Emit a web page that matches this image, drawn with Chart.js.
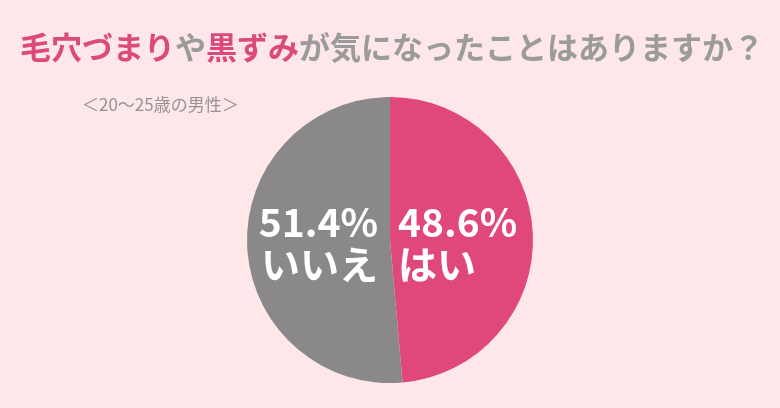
<!DOCTYPE html>
<html>
<head>
<meta charset="utf-8">
<script src="https://cdn.jsdelivr.net/npm/chart.js@4/dist/chart.umd.min.js"></script>
<style>
  html, body { margin: 0; padding: 0; background: #fde7e8; }
  #wrap { width: 780px; height: 408px; position: relative; }
</style>
</head>
<body>
<div id="wrap"><canvas id="pie-chart"></canvas></div>
<script>
// data
const categories = ['はい', 'いいえ'];
const shares = [48.6, 51.4];
const sliceColors = ['#e0487c', '#8b8889'];

// title pieces (text, colour)
const titleParts = [
    ['毛穴づまり', '#dc4a7c'],
    ['や', '#9b9b9b'],
    ['黒ずみ', '#dc4a7c'],
    ['が気になったことはありますか？', '#9b9b9b']
];
const subTitle = '＜20〜25歳の男性＞';

const font = '"Noto Sans CJK JP", "Noto Sans", sans-serif';

// draws title, subtitle and the labels inside the slices
const textPlugin = {
    id: 'texts',
    afterDraw(chart) {
        const c = chart.ctx;
        c.save();
        // title
        c.font = 'bold 31px ' + font;
        c.textBaseline = 'middle';
        c.textAlign = 'left';
        let x = 20;
        titleParts.forEach(p => {
            c.fillStyle = p[1];
            c.fillText(p[0], x, 47);
            x += c.measureText(p[0]).width;
        });
        // subtitle
        c.font = '17px ' + font;
        c.fillStyle = '#9a9292';
        c.fillText(subTitle, 82, 105);

        // slice labels
        const arcs = chart.getDatasetMeta(0).data;
        c.fillStyle = '#ffffff';
        c.font = 'bold 39px ' + font;
        arcs.forEach((arc, i) => {
            const cx = arc.x, cy = arc.y;
            const pct = shares[i].toFixed(1) + '%';
            if (i === 0) {
                c.textAlign = 'left';
                c.fillText(pct, cx + 8, cy - 18);
                c.fillText(categories[i], cx + 8, cy + 24);
            } else {
                c.textAlign = 'right';
                c.fillText(pct, cx - 12, cy - 18);
                c.fillText(categories[i], cx - 12, cy + 24);
            }
        });
        c.restore();
    }
};

const pieTag = document.getElementById('pie-chart');

const pieChart = new Chart(pieTag, {
type: 'pie',
data: {
    labels: categories,
    datasets: [{
        data: shares,
        backgroundColor: sliceColors,
        borderWidth: 0
    }]
},
options: {
    responsive: true,
    maintainAspectRatio: false,
    animation: false,
    layout: {
        padding: { top: 97, bottom: 25, left: 0, right: 0 }
    },
    plugins: {
        legend: { display: false },
        tooltip: { enabled: false }
    }
},
plugins: [textPlugin]
});
</script>
</body>
</html>
